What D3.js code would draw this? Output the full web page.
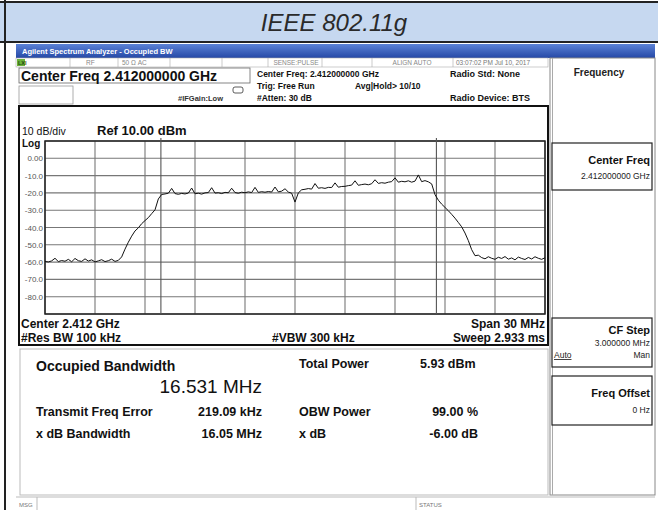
<!DOCTYPE html>
<html>
<head>
<meta charset="utf-8">
<script src="https://cdn.jsdelivr.net/npm/d3@7"></script>
<style>
body { margin: 0; background: #fff; }
text { font-family: "Liberation Sans", Arial, sans-serif; }
</style>
</head>
<body>
<div id="chart"></div>
<script>
// DATA
var titleText = "IEEE 802.11g";
var spanMHz = 30;

// graticule: frequency offset from 2.412 GHz (MHz) and level (dBm)
var gridFreqMHz = [-15, -12, -9, -6, -3, 0, 3, 6, 9, 12, 15];
var gridLevels = [10, 0, -10, -20, -30, -40, -50, -60, -70, -80, -90];
var labelLevels = [0, -10, -20, -30, -40, -50, -60, -70, -80];
var levelLabels = ["0.00", "-10.0", "-20.0", "-30.0", "-40.0", "-50.0", "-60.0", "-70.0", "-80.0"];

// occupied bandwidth markers
var obwMHz = 16.531;
var freqErrorMHz = 0.21909;

// trace sweep points
var traceMHz = [
  -15.0, -14.8, -14.6, -14.4, -14.2, -14.0, -13.8, -13.6, -13.4, -13.2,
  -13.0, -12.8, -12.6, -12.4, -12.2, -12.0, -11.8, -11.6, -11.4, -11.2,
  -11.0, -10.8, -10.6, -10.4, -10.2, -10.0, -9.8, -9.6, -9.4, -9.2,
  -9.0, -8.8, -8.6, -8.4, -8.2, -8.0, -7.8, -7.6, -7.4, -7.2,
  -7.0, -6.8, -6.6, -6.4, -6.2, -6.0, -5.8, -5.6, -5.4, -5.2,
  -5.0, -4.8, -4.6, -4.4, -4.2, -4.0, -3.8, -3.6, -3.4, -3.2,
  -3.0, -2.8, -2.6, -2.4, -2.2, -2.0, -1.8, -1.6, -1.4, -1.2,
  -1.0, -0.8, -0.6, -0.4, -0.2, 0.0, 0.2, 0.4, 0.6, 0.8,
  1.0, 1.2, 1.4, 1.6, 1.8, 2.0, 2.2, 2.4, 2.6, 2.8,
  3.0, 3.2, 3.4, 3.6, 3.8, 4.0, 4.2, 4.4, 4.6, 4.8,
  5.0, 5.2, 5.4, 5.6, 5.8, 6.0, 6.2, 6.4, 6.6, 6.8,
  7.0, 7.2, 7.4, 7.6, 7.8, 8.0, 8.2, 8.4, 8.6, 8.8,
  9.0, 9.2, 9.4, 9.6, 9.8, 10.0, 10.2, 10.4, 10.6, 10.8,
  11.0, 11.2, 11.4, 11.6, 11.8, 12.0, 12.2, 12.4, 12.6, 12.8,
  13.0, 13.2, 13.4, 13.6, 13.8, 14.0, 14.2, 14.4, 14.6, 14.8,
  15.0
];
var traceDbm = [
  -59.6, -59.9, -59.3, -57.8, -59.7, -59.1, -59.5, -58.4, -59.8, -57.9,
  -59.2, -59.6, -58.1, -59.4, -58.7, -59.9, -59.3, -58.6, -59.7, -59.2,
  -58.3, -59.6, -59.0, -57.0, -52.5, -48.5, -45.0, -42.0, -40.2, -37.8,
  -36.0, -34.3, -32.0, -29.8, -23.5, -20.9, -20.6, -20.2, -17.4, -20.4,
  -20.8, -20.3, -20.6, -20.1, -17.2, -20.5, -20.2, -20.7, -20.0, -19.8,
  -17.0, -20.1, -19.9, -20.4, -19.7, -19.9, -17.3, -19.8, -20.2, -19.6,
  -19.9, -19.4, -19.8, -16.8, -19.7, -19.3, -19.6, -19.2, -19.5, -16.6,
  -19.4, -19.0, -17.6, -19.5, -20.2, -25.3, -20.0, -18.2, -17.9, -17.5,
  -17.8, -14.6, -17.3, -17.0, -17.4, -16.8, -16.9, -14.2, -16.7, -16.3,
  -16.2, -15.8, -15.5, -13.0, -15.6, -15.2, -14.9, -15.3, -14.7, -12.4,
  -14.5, -14.1, -14.4, -13.8, -13.5, -11.3, -13.8, -13.3, -13.6, -13.0,
  -13.8, -13.2, -9.6, -13.5, -12.9, -13.6, -14.8, -21.0, -24.2, -26.5,
  -28.4, -30.3, -32.4, -34.6, -37.1, -39.6, -43.2, -47.6, -52.8, -56.3,
  -56.0, -57.4, -58.1, -56.9, -57.8, -58.4, -57.2, -57.9, -56.8, -58.3,
  -57.6, -58.7, -57.1, -57.9, -58.5, -57.3, -58.2, -56.9, -57.8, -58.4,
  -57.5
];

// measurement results
var obwText = "16.531 MHz";
var leftNames = ["Transmit Freq Error", "x dB Bandwidth"];
var leftValues = ["219.09 kHz", "16.05 MHz"];
var rightNames = ["Total Power", "OBW Power", "x dB"];
var rightValues = ["5.93 dBm", "99.00 %", "-6.00 dB"];

// header texts
var headerLeft = ["Center Freq: 2.412000000 GHz", "Trig: Free Run", "#Atten: 30 dB"];
var headerRight = ["Radio Std: None", "Radio Device: BTS"];
var footerLeft = ["Center  2.412 GHz", "#Res BW  100 kHz"];
var footerRight = ["Span 30 MHz", "Sweep  2.933 ms"];

// SET UP DIMENSIONS
var w = 658, h = 510;
var plot = { left: 45, right: 545, top: 141, bottom: 314 };

var svg = d3.select('#chart').append('svg')
  .attr('width', w)
  .attr('height', h);

function txt(g, x, y, s, size, opts) {
  opts = opts || {};
  return g.append('text')
    .attr('x', x).attr('y', y)
    .attr('font-size', size)
    .attr('font-weight', opts.bold ? 'bold' : 'normal')
    .attr('font-style', opts.italic ? 'italic' : 'normal')
    .attr('text-anchor', opts.anchor || 'start')
    .attr('fill', opts.fill || '#111')
    .text(s);
}
function line(g, x1, y1, x2, y2, stroke, sw) {
  return g.append('line')
    .attr('x1', x1).attr('y1', y1).attr('x2', x2).attr('y2', y2)
    .attr('stroke', stroke).attr('stroke-width', sw);
}

// TABLE FRAME + TITLE
svg.append('rect').attr('x', 0).attr('y', 2).attr('width', w).attr('height', 40).attr('fill', '#c6d8f0');
line(svg, 0, 2, w, 2, '#222', 2);
line(svg, 0, 42, w, 42, '#222', 2);
line(svg, 5, 0, 5, h, '#222', 2);
txt(svg, 334, 31, titleText, 24, { italic: true, anchor: 'middle', fill: '#2a2a2a' });

// ANALYZER WINDOW TITLE BAR
var defs = svg.append('defs');
var grad = defs.append('linearGradient').attr('id', 'bar').attr('x1', 0).attr('y1', 0).attr('x2', 0).attr('y2', 1);
grad.append('stop').attr('offset', '0%').attr('stop-color', '#5b82d6');
grad.append('stop').attr('offset', '100%').attr('stop-color', '#2548a6');
svg.append('rect').attr('x', 16).attr('y', 44).attr('width', 639).attr('height', 14).attr('fill', 'url(#bar)');
txt(svg, 22, 54, "Agilent Spectrum Analyzer - Occupied BW", 7.5, { fill: '#fff', bold: true });

// STATUS ROW
var statusRow = svg.append('g');
statusRow.append('rect').attr('x', 16).attr('y', 58).attr('width', 532).attr('height', 9).attr('fill', '#fff').attr('stroke', '#aaa').attr('stroke-width', 0.6);
statusRow.append('rect').attr('x', 17).attr('y', 59).attr('width', 8).attr('height', 7).attr('fill', '#6bb33a');
txt(statusRow, 18, 65, "LXI", 5.5, { fill: '#1d4a10', bold: true });
[70, 118, 170, 222, 268, 322, 372, 453].forEach(function(x) { line(statusRow, x, 58, x, 67, '#aaa', 0.6); });
txt(statusRow, 86, 65, "RF", 6.5, { fill: '#888' });
txt(statusRow, 122, 65, "50 Ω    AC", 6.5, { fill: '#888' });
txt(statusRow, 296, 65, "SENSE:PULSE", 6.5, { fill: '#888', anchor: 'middle' });
txt(statusRow, 412, 65, "ALIGN AUTO", 6.5, { fill: '#888', anchor: 'middle' });
txt(statusRow, 456, 65, "03:07:02 PM Jul 10, 2017", 6.5, { fill: '#777' });

// HEADER
svg.append('rect').attr('x', 19).attr('y', 68).attr('width', 231).attr('height', 15).attr('fill', 'none').attr('stroke', '#666').attr('stroke-width', 0.8);
txt(svg, 21, 81, "Center Freq 2.412000000 GHz", 14, { bold: true });
svg.append('rect').attr('x', 19).attr('y', 86).attr('width', 54).attr('height', 18).attr('fill', 'none').attr('stroke', '#999').attr('stroke-width', 0.8);
txt(svg, 178, 101, "#IFGain:Low", 7.5, { bold: true, fill: '#333' });
svg.append('rect').attr('x', 233).attr('y', 87).attr('width', 10).attr('height', 6).attr('rx', 2).attr('fill', '#fff').attr('stroke', '#333').attr('stroke-width', 0.8);
headerLeft.forEach(function(s, i) { txt(svg, 257, 77 + i * 12, s, 8.5, { bold: true }); });
txt(svg, 355, 89, "Avg|Hold> 10/10", 8.5, { bold: true });
txt(svg, 450, 77, headerRight[0], 9, { bold: true });
txt(svg, 450, 101, headerRight[1], 9, { bold: true });

// PLOT BOX
svg.append('rect').attr('x', 19).attr('y', 106).attr('width', 529).attr('height', 239)
  .attr('fill', '#fff').attr('stroke', '#111').attr('stroke-width', 2);
txt(svg, 22, 135, "10 dB/div", 10.5);
txt(svg, 97, 135, "Ref 10.00 dBm", 13, { bold: true });
txt(svg, 22, 147, "Log", 10, { bold: true });

// SET UP SCALES
var xScale = d3.scaleLinear().domain([-spanMHz / 2, spanMHz / 2]).range([plot.left, plot.right]);
var yScale = d3.scaleLinear().domain([-90, 10]).range([plot.bottom, plot.top]);

// GRID
var grid = svg.append('g');
grid.selectAll('.vgrid').data(gridFreqMHz).enter().append('line')
  .attr('x1', function(d) { return xScale(d); }).attr('x2', function(d) { return xScale(d); })
  .attr('y1', plot.top).attr('y2', plot.bottom)
  .attr('stroke', '#777').attr('stroke-width', 1.1);
grid.selectAll('.hgrid').data(gridLevels).enter().append('line')
  .attr('y1', function(d) { return yScale(d); }).attr('y2', function(d) { return yScale(d); })
  .attr('x1', plot.left).attr('x2', plot.right)
  .attr('stroke', '#777').attr('stroke-width', 1.1);
grid.append('rect').attr('x', plot.left).attr('y', plot.top)
  .attr('width', plot.right - plot.left).attr('height', plot.bottom - plot.top)
  .attr('fill', 'none').attr('stroke', '#222').attr('stroke-width', 1.5);

// Y LABELS
svg.selectAll('.ylab').data(labelLevels).enter().append('text')
  .attr('x', 43).attr('y', function(d) { return yScale(d) + 3; })
  .attr('text-anchor', 'end').attr('font-size', 8).attr('fill', '#555')
  .text(function(d, i) { return levelLabels[i]; });

// OBW MARKERS
var obwEdges = [freqErrorMHz - obwMHz / 2, freqErrorMHz + obwMHz / 2];
svg.selectAll('.obw').data(obwEdges).enter().append('line')
  .attr('x1', function(d) { return xScale(d); }).attr('x2', function(d) { return xScale(d); })
  .attr('y1', plot.top - 3).attr('y2', plot.bottom)
  .attr('stroke', '#555').attr('stroke-width', 1.1);

// TRACE
var traceLine = d3.line()
  .x(function(d, i) { return xScale(traceMHz[i]); })
  .y(function(d) { return yScale(d); });
svg.append('path').datum(traceDbm)
  .attr('d', traceLine)
  .attr('fill', 'none').attr('stroke', '#111').attr('stroke-width', 1);

// FOOTER TEXT
footerLeft.forEach(function(s, i) { txt(svg, 21, 328 + i * 14, s, 12, { bold: true }); });
txt(svg, 272, 342, "#VBW  300 kHz", 12, { bold: true });
footerRight.forEach(function(s, i) { txt(svg, 545, 328 + i * 14, s, 12, { bold: true, anchor: 'end' }); });

// RESULTS PANEL
svg.append('rect').attr('x', 20).attr('y', 349).attr('width', 528).attr('height', 146)
  .attr('fill', '#fff').attr('stroke', '#bbb').attr('stroke-width', 1);
txt(svg, 36, 371, "Occupied Bandwidth", 14, { bold: true });
txt(svg, 262, 393, obwText, 19, { anchor: 'end' });
leftNames.forEach(function(s, i) { txt(svg, 36, 416 + i * 22, s, 12.5, { bold: true }); });
leftValues.forEach(function(s, i) { txt(svg, 262, 416 + i * 22, s, 12.5, { bold: true, anchor: 'end' }); });
var rightY = [368, 416, 438];
rightNames.forEach(function(s, i) { txt(svg, 299, rightY[i], s, 12.5, { bold: true }); });
rightValues.forEach(function(s, i) {
  txt(svg, i === 0 ? 420 : 478, rightY[i], s, 12.5, { bold: true, anchor: i === 0 ? 'start' : 'end' });
});

// MESSAGE BAR
line(svg, 16, 497, 655, 497, '#bbb', 1);
txt(svg, 19, 507, "MSG", 6, { fill: '#777' });
line(svg, 37, 497, 37, 510, '#bbb', 1);
line(svg, 416, 497, 416, 510, '#bbb', 1);
txt(svg, 419, 507, "STATUS", 6, { fill: '#777' });

// SOFT KEY PANEL
var panel = svg.append('g');
panel.append('rect').attr('x', 550).attr('y', 58).attr('width', 105).attr('height', 437)
  .attr('fill', '#fff').attr('stroke', '#888').attr('stroke-width', 1);
line(panel, 552.5, 58, 552.5, 495, '#aaa', 1);
txt(panel, 599, 76, "Frequency", 10, { bold: true, anchor: 'middle', fill: '#222' });

var keys = [
  { y: 143, h: 47, title: "Center Freq", sub: "2.412000000 GHz", ty: 21, sy: 36 },
  { y: 318, h: 49, title: "CF Step", sub: "3.000000 MHz", ty: 16, sy: 28 },
  { y: 376, h: 49, title: "Freq Offset", sub: "0 Hz", ty: 21, sy: 37 }
];
keys.forEach(function(k) {
  panel.append('rect').attr('x', 552).attr('y', k.y).attr('width', 100).attr('height', k.h)
    .attr('fill', '#fff').attr('stroke', '#222').attr('stroke-width', 1.2);
  txt(panel, 650, k.y + k.ty, k.title, 11, { bold: true, anchor: 'end' });
  txt(panel, 650, k.y + k.sy, k.sub, 8.5, { anchor: 'end', fill: '#222' });
});
txt(panel, 554, 358, "Auto", 8.5, { fill: '#222' }).attr('text-decoration', 'underline');
txt(panel, 650, 358, "Man", 8.5, { anchor: 'end', fill: '#222' });
</script>
</body>
</html>
